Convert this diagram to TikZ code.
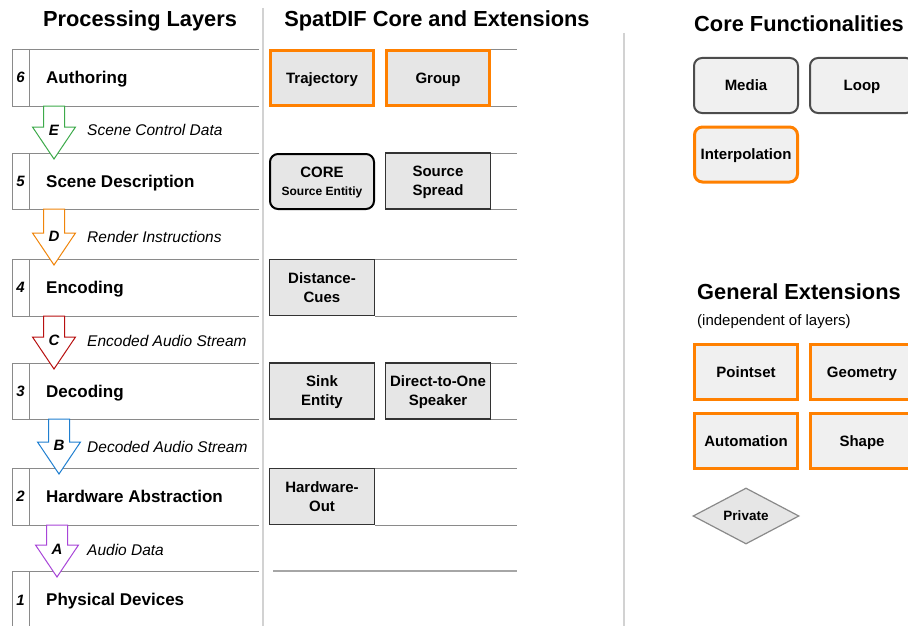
\documentclass[tikz,border=0pt]{standalone}
\usepackage{fontspec}
\setmainfont{Liberation Sans}
\usetikzlibrary{calc,shapes.geometric}
\definecolor{org}{HTML}{FF8000}
\definecolor{rowgray}{HTML}{8A8A8A}
\definecolor{sepgray}{HTML}{D2D2D2}
\definecolor{boxfill}{HTML}{E6E6E6}
\definecolor{rboxfill}{HTML}{F0F0F0}
\definecolor{arrE}{HTML}{3DAA4A}
\definecolor{arrD}{HTML}{F0850A}
\definecolor{arrC}{HTML}{B81010}
\definecolor{arrB}{HTML}{1F7FD0}
\definecolor{arrA}{HTML}{A845D8}
\newcommand\fs[1]{\fontsize{#1}{#1}\selectfont}
\newcommand\fsb[2]{\fontsize{#1}{#2}\selectfont}
\newcommand\layerframe[1]{%
  \draw[rowline] (#1.north east) -- (#1.north west) -- (#1.south west) -- (#1.south east);
  \draw[rowline] ($(#1.north west)+(17,0)$) -- ($(#1.south west)+(17,0)$);}
% #1 from layer, #2 to layer, #3 x offset from west, #4 colour
\newcommand\blockarr[4]{%
  \draw[#4, line width=1pt, fill=white] let \p1=($(#1.south west)+(#3,0)$), \p2=($(#2.north west)+(#3,6)$) in
   (\x1-10.5pt,\y1) -- (\x1+10.5pt,\y1) -- (\x1+10.5pt,\y2+32pt) -- (\x1+21.5pt,\y2+32pt) --
   (\x1,\y2) -- (\x1-21.5pt,\y2+32pt) -- (\x1-10.5pt,\y2+32pt) -- cycle;}
\begin{document}
\begin{tikzpicture}[x=1pt,y=-1pt,
  layer/.style={rectangle, minimum width=247pt, inner sep=0pt, outer sep=0pt, anchor=north west},
  rowline/.style={draw=rowgray, line width=0.9pt},
  midline/.style={draw=rowgray, line width=0.9pt},
  sepline/.style={draw=sepgray, line width=1.5pt},
  title/.style={font=\bfseries\fs{21.8}, text height=15.7pt, text depth=0pt, inner sep=0pt},
  lnum/.style={font=\bfseries\itshape\fs{15}, text height=10.8pt, text depth=0pt, inner sep=0pt},
  ltext/.style={font=\bfseries\fs{17}, text height=12.2pt, text depth=0pt, inner sep=0pt, anchor=west},
  alet/.style={font=\bfseries\itshape\fs{15}, text height=10.8pt, text depth=0pt, inner sep=0pt},
  atext/.style={font=\itshape\fs{15.5}, text height=11.2pt, text depth=0pt, inner sep=0pt, anchor=west},
  extbox/.style={rectangle, draw=black!80, fill=boxfill, line width=1.2pt, minimum width=105pt,
     minimum height=56pt, inner sep=1pt, align=center, text depth=-3pt, font=\bfseries\fsb{15}{19}},
  oneline/.style={text height=10.8pt, text depth=0pt},
  orangebox/.style={draw=org, line width=3pt, minimum width=103pt, minimum height=55pt},
  corebox/.style={draw=black, line width=2pt, rounded corners=8pt, minimum width=104pt, minimum height=55pt,
     text depth=-5pt},
  rbox/.style={rectangle, draw=black!70, fill=rboxfill, line width=2pt, rounded corners=8pt,
     minimum width=104pt, minimum height=55pt, inner sep=1pt, align=center, font=\bfseries\fs{15},
     text height=10.8pt, text depth=0pt},
  rorange/.style={draw=org, line width=3pt, minimum width=103pt, minimum height=55pt},
  sqbox/.style={rectangle, draw=org, fill=rboxfill, line width=3pt, minimum width=103pt,
     minimum height=55pt, inner sep=1pt, align=center, font=\bfseries\fs{15},
     text height=10.8pt, text depth=0pt},
  privbox/.style={diamond, draw=rowgray, fill=boxfill, line width=1.2pt, minimum width=106pt,
     minimum height=56pt, inner sep=0pt, shape aspect=1.9, font=\bfseries\fs{13.5},
     text height=9.7pt, text depth=0pt}
]
\useasboundingbox (0,0) rectangle (908,626);
\fill[white] (0,0) rectangle (908,626);

% column separators
\draw[sepline] (263,8) -- (263,626);
\draw[sepline] (624,33) -- (624,626);

% titles
\node[title] (t1) at (140,19) {Processing Layers};
\node[title] (t2) at (437,19) {SpatDIF Core and Extensions};
\node[title] (t3) at (799,24) {Core Functionalities};
\node[title] (t4) at (799,292) {General Extensions};
\node[font=\fs{15}, text height=10.8pt, text depth=0pt, inner sep=0pt, anchor=west] (t5) at (697,320) {(independent of layers)};

% layers
\node[layer, minimum height=57pt] (l6) at (12,49) {};
\node[layer, minimum height=56pt] (l5) at (12,153) {};
\node[layer, minimum height=57pt] (l4) at (12,259) {};
\node[layer, minimum height=56pt] (l3) at (12,363) {};
\node[layer, minimum height=57pt] (l2) at (12,468) {};
\node[layer, minimum height=60pt] (l1) at (12,571) {};
\layerframe{l6}\layerframe{l5}\layerframe{l4}\layerframe{l3}\layerframe{l2}\layerframe{l1}

\foreach \l/\n/\t in {l6/6/Authoring, l5/5/Scene Description, l4/4/Encoding, l3/3/Decoding,
   l2/2/Hardware Abstraction} {
  \node[lnum] (n\n) at ($(\l.west)+(8.5,0)$) {\n};
  \node[ltext] (lab\n) at ($(\l.west)+(34,0)$) {\t};
}
\node[lnum] (n1) at ($(l1.north west)+(8.5,29)$) {1};
\node[ltext] (lab1) at ($(l1.north west)+(34,28)$) {Physical Devices};

% block arrows
\blockarr{l6}{l5}{42}{arrE}
\blockarr{l5}{l4}{42}{arrD}
\blockarr{l4}{l3}{42}{arrC}
\blockarr{l3}{l2}{47}{arrB}
\blockarr{l2}{l1}{45}{arrA}

\node[alet] (aE) at (54,130) {E};
\node[alet] (aD) at (54,236) {D};
\node[alet] (aC) at (54,340) {C};
\node[alet] (aB) at (59,445) {B};
\node[alet] (aA) at (57,549) {A};
\node[atext] (dE) at (87,130) {Scene Control Data};
\node[atext] (dD) at (87,237) {Render Instructions};
\node[atext] (dC) at (87,341) {Encoded Audio Stream};
\node[atext] (dB) at (87,447) {Decoded Audio Stream};
\node[atext] (dA) at (87,550) {Audio Data};

% middle column boxes
\node[extbox, orangebox, oneline] (traj) at (322,78) {Trajectory};
\node[extbox, orangebox, oneline] (grp) at (438,78) {Group};
\node[extbox, corebox] (core) at (322,181.5) {CORE\\[-1pt]{\fs{12}Source Entitiy}};
\node[extbox] (spread) at (438,181) {Source\\Spread};
\node[extbox] (dist) at (322,287.5) {Distance-\\Cues};
\node[extbox] (sink) at (322,391) {Sink\\Entity};
\node[extbox] (d2o) at (438,391) {Direct-to-One\\Speaker};
\node[extbox] (hwout) at (322,496.5) {Hardware-\\Out};

\coordinate (rend) at (517,0);
\coordinate (mstart) at (273,0);
\foreach \l/\b in {l6/grp, l5/spread, l4/dist, l3/d2o, l2/hwout} {
  \draw[midline] (\l.north -| \b.east) -- (\l.north -| rend);
  \draw[midline] (\l.south -| \b.east) -- (\l.south -| rend);
}
\draw[draw=black!35, line width=1.5pt] (l1.north -| mstart) -- (l1.north -| rend);

% right column
\node[rbox] (media) at (746,85.5) {Media};
\node[rbox] (loop) at (862,85.5) {Loop};
\node[rbox, rorange] (interp) at (746,154.5) {Interpolation};
\node[sqbox] (pointset) at (746,372) {Pointset};
\node[sqbox] (geom) at (862,372) {Geometry};
\node[sqbox] (autom) at (746,441) {Automation};
\node[sqbox] (shape) at (862,441) {Shape};
\node[privbox] (priv) at (746,516) {Private};
\end{tikzpicture}
\end{document}
